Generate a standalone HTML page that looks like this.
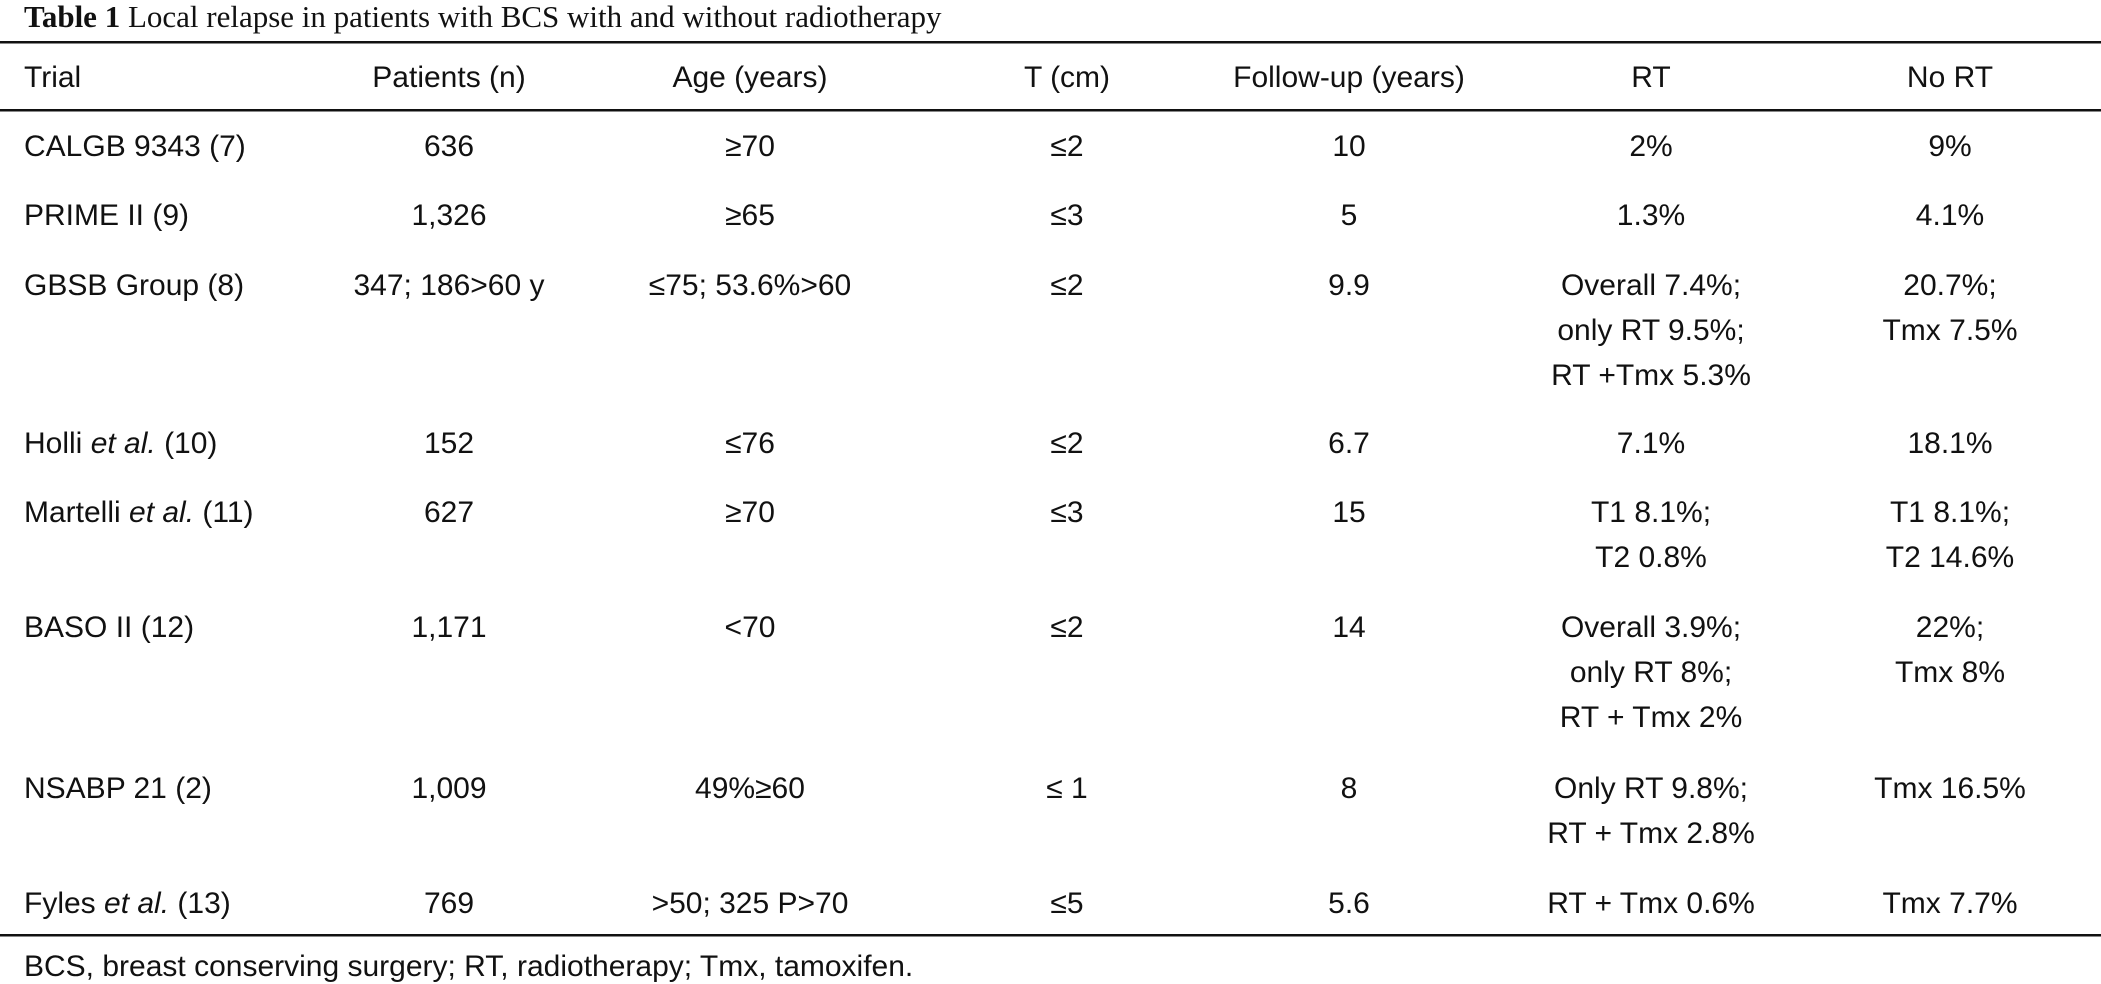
<!DOCTYPE html>
<html><head><meta charset="utf-8"><style>
html,body{margin:0;padding:0;background:#fff;width:2101px;height:984px;overflow:hidden}
svg{display:block}
.s{font-family:"Liberation Sans",sans-serif;font-size:30px;fill:#111}
.t{font-family:"Liberation Serif",serif;font-size:31px;fill:#111}
</style></head><body>
<svg width="2101" height="984" viewBox="0 0 2101 984">
<text class="t" x="24" y="27"><tspan font-weight="bold">Table 1</tspan> Local relapse in patients with BCS with and without radiotherapy</text>
<rect x="0" y="41" width="2101" height="2.5" fill="#111"/>
<rect x="0" y="109" width="2101" height="2.5" fill="#111"/>
<rect x="0" y="934" width="2101" height="2.5" fill="#111"/>
<g class="s">
<text x="24" y="87">Trial</text>
<text x="449" y="87" text-anchor="middle">Patients (n)</text>
<text x="750" y="87" text-anchor="middle">Age (years)</text>
<text x="1067" y="87" text-anchor="middle">T (cm)</text>
<text x="1349" y="87" text-anchor="middle">Follow-up (years)</text>
<text x="1651" y="87" text-anchor="middle">RT</text>
<text x="1950" y="87" text-anchor="middle">No RT</text>
</g>
<g class="s" id="body"></g>
<text class="s" x="24" y="976">BCS, breast conserving surgery; RT, radiotherapy; Tmx, tamoxifen.</text>
</svg>
<script>
const trials = [["CALGB 9343 (7)"],["PRIME II (9)"],["GBSB Group (8)"],["Holli ","et al."," (10)"],["Martelli ","et al."," (11)"],["BASO II (12)"],["NSABP 21 (2)"],["Fyles ","et al."," (13)"]];
const patients = ["636","1,326","347; 186>60 y","152","627","1,171","1,009","769"];
const ages = ["≥70","≥65","≤75; 53.6%>60","≤76","≥70","<70","49%≥60",">50; 325 P>70"];
const tcm = ["≤2","≤3","≤2","≤2","≤3","≤2","≤ 1","≤5"];
const follow = ["10","5","9.9","6.7","15","14","8","5.6"];
const rt = [["2%"],["1.3%"],["Overall 7.4%;","only RT 9.5%;","RT +Tmx 5.3%"],["7.1%"],["T1 8.1%;","T2 0.8%"],["Overall 3.9%;","only RT 8%;","RT + Tmx 2%"],["Only RT 9.8%;","RT + Tmx 2.8%"],["RT + Tmx 0.6%"]];
const nort = [["9%"],["4.1%"],["20.7%;","Tmx 7.5%"],["18.1%"],["T1 8.1%;","T2 14.6%"],["22%;","Tmx 8%"],["Tmx 16.5%"],["Tmx 7.7%"]];
const rowY = [145,214,284,442,511,626,787,902];
const lineH = 45;
const NS="http://www.w3.org/2000/svg";
const body=document.getElementById('body');
function txt(x,y,anchor,s){const t=document.createElementNS(NS,'text');t.setAttribute('x',x);t.setAttribute('y',y+11);t.setAttribute('text-anchor',anchor);t.textContent=s;


body.appendChild(t);return t;}
trials.forEach((tr,i)=>{
  const y=rowY[i];
  const t=document.createElementNS(NS,'text');t.setAttribute('x',24);t.setAttribute('y',y+11);
  
  
  tr.forEach((p,j)=>{const sp=document.createElementNS(NS,'tspan');sp.textContent=p;if(p==="et al.")sp.setAttribute('font-style','italic');t.appendChild(sp);});
  body.appendChild(t);
  txt(449,y,'middle',patients[i]);
  txt(750,y,'middle',ages[i]);
  txt(1067,y,'middle',tcm[i]);
  txt(1349,y,'middle',follow[i]);
  rt[i].forEach((s,k)=>txt(1651,y+k*lineH,'middle',s));
  nort[i].forEach((s,k)=>txt(1950,y+k*lineH,'middle',s));
});
</script>
</body></html>
